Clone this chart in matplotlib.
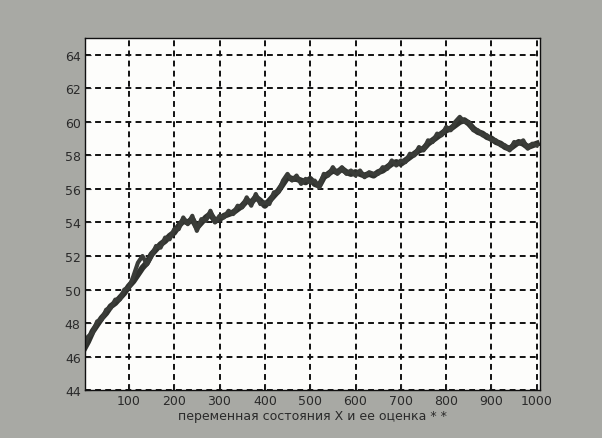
import matplotlib
matplotlib.use("Agg")
import matplotlib.pyplot as plt

t_vals = list(range(0, 1001, 10))

state_x = [46.4, 46.9, 47.5, 47.9, 48.3, 48.6, 49.0, 49.2, 49.5, 49.8,
           50.2, 50.5, 50.9, 51.3, 51.6, 52.1, 52.4, 52.7, 52.9, 53.2,
           53.4, 53.8, 54.1, 54.0, 54.2, 53.7, 54.0, 54.3, 54.5, 54.1,
           54.2, 54.4, 54.5, 54.6, 54.8, 55.0, 55.3, 55.2, 55.5, 55.3,
           55.0, 55.3, 55.6, 55.9, 56.3, 56.7, 56.6, 56.6, 56.5, 56.4,
           56.6, 56.3, 56.2, 56.7, 56.9, 57.1, 57.0, 57.2, 57.0, 56.9,
           57.0, 56.9, 56.8, 56.9, 56.8, 57.0, 57.1, 57.3, 57.5, 57.6,
           57.5, 57.7, 57.9, 58.1, 58.3, 58.4, 58.7, 58.9, 59.1, 59.3,
           59.5, 59.6, 59.8, 60.0, 60.1, 59.9, 59.6, 59.4, 59.3, 59.1,
           59.0, 58.8, 58.7, 58.5, 58.4, 58.6, 58.8, 58.7, 58.5, 58.6,
           58.7]

estimate_x = [46.6, 47.2, 47.4, 48.1, 48.2, 48.8, 48.9, 49.4, 49.4, 50.0,
              50.1, 50.8, 51.6, 52.0, 51.5, 52.0, 52.6, 52.5, 53.1, 53.0,
              53.6, 53.6, 54.3, 53.9, 54.4, 53.5, 54.2, 54.1, 54.7, 54.0,
              54.4, 54.3, 54.7, 54.5, 55.0, 54.9, 55.5, 55.0, 55.7, 55.1,
              55.2, 55.1, 55.8, 55.8, 56.5, 56.9, 56.5, 56.8, 56.3, 56.6,
              56.4, 56.5, 56.1, 56.9, 56.8, 57.3, 56.9, 57.3, 56.9, 57.1,
              56.8, 57.1, 56.7, 57.0, 56.9, 56.9, 57.3, 57.2, 57.7, 57.4,
              57.7, 57.6, 58.1, 58.0, 58.5, 58.3, 58.9, 58.8, 59.3, 59.2,
              59.7, 59.5, 60.0, 60.3, 60.0, 60.0, 59.5, 59.5, 59.2, 59.2,
              58.9, 58.9, 58.6, 58.6, 58.3, 58.8, 58.7, 58.9, 58.4, 58.7,
              58.6]

x_ticks = [100, 200, 300, 400, 500, 600, 700, 800, 900, 1000]
y_ticks = [44, 46, 48, 50, 52, 54, 56, 58, 60, 62, 64]
x_label = "переменная состояния X и ее оценка * *"

fig = plt.figure(figsize=(6.02, 4.39), dpi=100, facecolor="#a8a9a4")
ax = fig.add_axes([0.141, 0.109, 0.756, 0.802])
ax.set_facecolor("#fdfdfb")

ax.plot(t_vals, state_x, color="#30322e", lw=4.4, solid_joinstyle="round")
ax.plot(t_vals, estimate_x, color="#3a3c38", lw=3.0, solid_joinstyle="round")

ax.set_xlim(3, 1007)
ax.set_ylim(44, 65)
ax.set_xticks(x_ticks)
ax.set_yticks(y_ticks)
ax.set_xticklabels([str(v) for v in x_ticks])
ax.set_yticklabels([str(v) for v in y_ticks])
ax.grid(True, color="#111111", linestyle=(0, (3, 2.2)), linewidth=1.4)
ax.tick_params(direction="in", length=4, labelsize=9, colors="#222222",
               labelcolor="#2a2a2a", pad=3)
for s in ax.spines.values():
    s.set_color("#111111")
    s.set_linewidth(1.0)
ax.set_xlabel(x_label, fontsize=9, color="#2a2a2a", labelpad=1)

fig.savefig("out.png", dpi=100, facecolor=fig.get_facecolor())
